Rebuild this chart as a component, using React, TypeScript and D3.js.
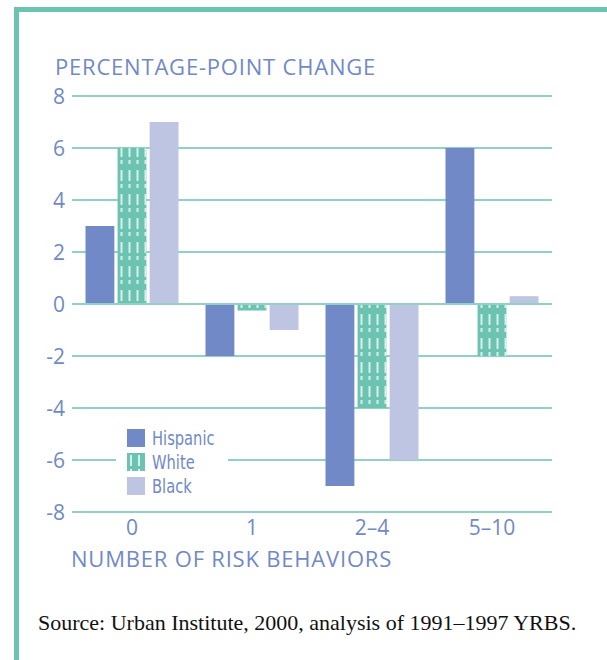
import React, { useEffect, useRef } from 'react';
import * as d3 from 'd3';

const categories = ['0', '1', '2–4', '5–10'];
const seriesNames = ['Hispanic', 'White', 'Black'];
const hispanic = [3, -2, -7, 6];
const white = [6, -0.25, -4, -2];
const black = [7, -1, -6, 0.3];
const yTicks = [8, 6, 4, 2, 0, -2, -4, -6, -8];

const BLUE = '#7189c6';
const TEAL = '#6cc3b1';
const LAVENDER = '#bdc5e2';
const GRID = '#8fd2c5';

const App: React.FC = () => {
  const svgRef = useRef<SVGSVGElement>(null);

  useEffect(() => {
    if (!svgRef.current) return;
    const svg = d3.select(svgRef.current);
    svg.selectAll('*').remove();

    const width = 607;
    const height = 660;
    const plot = { left: 72, right: 552, top: 96, bottom: 512 };
    const font = "'Open Sans', sans-serif";

    const rows = categories.map((c, i) => ({
      cat: c,
      values: [hispanic[i], white[i], black[i]],
    }));

    // pattern for the "White" series
    const defs = svg.append('defs');
    const pat = defs.append('pattern')
      .attr('id', 'white-pattern')
      .attr('patternUnits', 'userSpaceOnUse')
      .attr('width', 8)
      .attr('height', 24);
    pat.append('rect').attr('width', 8).attr('height', 24).attr('fill', TEAL);
    pat.append('rect').attr('x', 3).attr('y', 2).attr('width', 2).attr('height', 11).attr('fill', '#d6efe9');
    pat.append('rect').attr('x', 3).attr('y', 16).attr('width', 2).attr('height', 4).attr('fill', '#d6efe9');

    // frame
    svg.append('rect').attr('width', width).attr('height', height).attr('fill', '#fff');
    svg.append('rect').attr('x', 14).attr('y', 7).attr('width', width - 14).attr('height', 5).attr('fill', TEAL);
    svg.append('rect').attr('x', 14).attr('y', 7).attr('width', 5).attr('height', height - 7).attr('fill', TEAL);

    const x0 = d3.scaleBand<string>()
      .domain(categories)
      .range([plot.left, plot.right])
      .paddingInner(0.225)
      .paddingOuter(0.1125);

    const x1 = d3.scaleBand<number>()
      .domain([0, 1, 2])
      .range([0, x0.bandwidth()])
      .paddingInner(0.1);

    const y = d3.scaleLinear().domain([-8, 8]).range([plot.bottom, plot.top]);

    // gridlines
    svg.append('g')
      .selectAll('line')
      .data(yTicks)
      .enter()
      .append('line')
      .attr('x1', plot.left)
      .attr('x2', plot.right)
      .attr('y1', d => y(d))
      .attr('y2', d => y(d))
      .attr('stroke', GRID)
      .attr('stroke-width', 2);

    // y tick labels
    svg.append('g')
      .selectAll('text')
      .data(yTicks)
      .enter()
      .append('text')
      .attr('x', 65)
      .attr('y', d => y(d))
      .attr('dy', '0.36em')
      .attr('text-anchor', 'end')
      .style('font-family', font)
      .style('font-size', '21px')
      .style('fill', BLUE)
      .text(d => String(d));

    // bars
    const fills = [BLUE, 'url(#white-pattern)', LAVENDER];
    const groups = svg.append('g')
      .selectAll('g')
      .data(rows)
      .enter()
      .append('g')
      .attr('transform', d => `translate(${x0(d.cat)},0)`);

    groups.selectAll('rect')
      .data(d => d.values)
      .enter()
      .append('rect')
      .attr('x', (d, i) => x1(i) as number)
      .attr('width', x1.bandwidth())
      .attr('y', d => y(Math.max(0, d)))
      .attr('height', d => Math.abs(y(d) - y(0)))
      .attr('fill', (d, i) => fills[i]);

    // zero line on top
    svg.append('line')
      .attr('x1', plot.left)
      .attr('x2', plot.right)
      .attr('y1', y(0))
      .attr('y2', y(0))
      .attr('stroke', GRID)
      .attr('stroke-width', 2);

    // x tick labels
    svg.append('g')
      .selectAll('text')
      .data(categories)
      .enter()
      .append('text')
      .attr('x', d => (x0(d) as number) + x0.bandwidth() / 2)
      .attr('y', 535)
      .attr('text-anchor', 'middle')
      .style('font-family', font)
      .style('font-size', '21px')
      .style('fill', BLUE)
      .text(d => d);

    // axis titles
    svg.append('text')
      .attr('x', 55)
      .attr('y', 75)
      .style('font-family', font)
      .style('font-size', '22px')
      .style('letter-spacing', '0.8px')
      .style('fill', BLUE)
      .text('PERCENTAGE-POINT CHANGE');

    svg.append('text')
      .attr('x', 71)
      .attr('y', 567)
      .style('font-family', font)
      .style('font-size', '22px')
      .style('letter-spacing', '0.8px')
      .style('fill', BLUE)
      .text('NUMBER OF RISK BEHAVIORS');

    // legend
    const legend = svg.append('g').attr('transform', 'translate(127,429)');
    legend.append('rect')
      .attr('x', -11).attr('y', -4).attr('width', 112).attr('height', 70)
      .attr('fill', '#fff');
    seriesNames.forEach((name, i) => {
      const row = legend.append('g').attr('transform', `translate(0,${i * 24})`);
      row.append('rect')
        .attr('width', 18)
        .attr('height', 18)
        .attr('fill', fills[i]);
      row.append('text')
        .attr('transform', 'translate(25,9) scale(0.86,1)')
        .attr('dy', '0.36em')
        .style('font-family', "'DejaVu Sans Condensed', 'DejaVu Sans', sans-serif")
        .style('font-size', '19px')
        .style('fill', BLUE)
        .text(name);
    });

    // source note
    svg.append('text')
      .attr('x', 38)
      .attr('y', 630)
      .style('font-family', "'Liberation Serif', serif")
      .style('font-size', '22px')
      .style('fill', '#111')
      .text('Source: Urban Institute, 2000, analysis of 1991–1997 YRBS.');
  }, []);

  return (
    <svg
      ref={svgRef}
      width={607}
      height={660}
      style={{ position: 'absolute', left: 0, top: 0 }}
    ></svg>
  );
};

export default App;
